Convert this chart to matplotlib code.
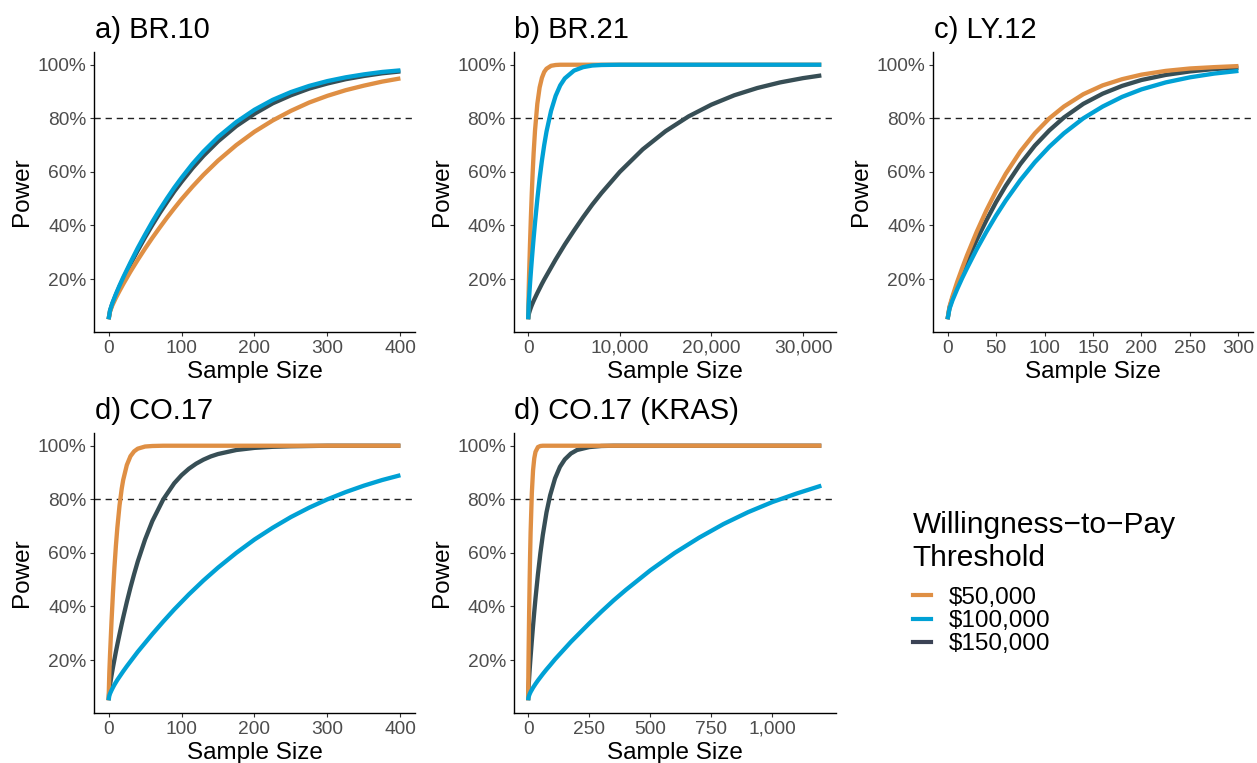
import matplotlib
matplotlib.use("Agg")
import matplotlib.pyplot as plt
from matplotlib.ticker import FuncFormatter
from matplotlib.lines import Line2D

plt.rcParams['font.family'] = ['Liberation Sans', 'DejaVu Sans']

## power curves (one list per willingness-to-pay threshold)
br10_n = [0, 2, 5, 10, 15, 20, 30, 40, 50, 60, 70, 80, 90, 100, 115, 130, 150, 175, 200, 225, 250, 275, 300, 325, 350, 375, 400]
br10_50k = [0.050, 0.079, 0.101, 0.130, 0.156, 0.181, 0.228, 0.272, 0.314, 0.354, 0.392, 0.429, 0.464, 0.498, 0.545, 0.589,
            0.642, 0.700, 0.750, 0.792, 0.828, 0.859, 0.884, 0.905, 0.922, 0.937, 0.949]
br10_100k = [0.050, 0.083, 0.109, 0.144, 0.176, 0.206, 0.262, 0.316, 0.366, 0.414, 0.459, 0.501, 0.541, 0.578, 0.630, 0.676,
             0.730, 0.786, 0.832, 0.869, 0.898, 0.921, 0.939, 0.953, 0.964, 0.973, 0.979]
br10_150k = [0.050, 0.082, 0.107, 0.141, 0.172, 0.201, 0.256, 0.307, 0.356, 0.402, 0.446, 0.487, 0.527, 0.563, 0.614, 0.660,
             0.714, 0.771, 0.817, 0.856, 0.886, 0.911, 0.930, 0.946, 0.958, 0.968, 0.975]

br21_n = [0, 50, 100, 200, 300, 400, 500, 600, 750, 1000, 1250, 1500, 1750, 2000, 2500, 3000, 3500, 4000, 5000, 6000, 7000,
          8000, 10000, 12500, 15000, 17500, 20000, 22500, 25000, 27500, 30000, 32000]
br21_50k = [0.050, 0.149, 0.214, 0.330, 0.433, 0.524, 0.603, 0.672, 0.755, 0.854, 0.915, 0.951, 0.973, 0.985, 0.996, 0.999,
            1.000, 1.000, 1.000, 1.000, 1.000, 1.000, 1.000, 1.000, 1.000, 1.000, 1.000, 1.000, 1.000, 1.000, 1.000, 1.000]
br21_100k = [0.050, 0.101, 0.130, 0.181, 0.228, 0.272, 0.314, 0.354, 0.411, 0.498, 0.575, 0.642, 0.700, 0.750, 0.828, 0.884,
             0.923, 0.949, 0.978, 0.991, 0.997, 0.999, 1.000, 1.000, 1.000, 1.000, 1.000, 1.000, 1.000, 1.000, 1.000, 1.000]
br21_150k = [0.050, 0.065, 0.073, 0.084, 0.094, 0.103, 0.111, 0.119, 0.130, 0.148, 0.165, 0.182, 0.198, 0.213, 0.243, 0.273,
             0.301, 0.329, 0.381, 0.431, 0.478, 0.521, 0.600, 0.684, 0.752, 0.807, 0.851, 0.886, 0.913, 0.934, 0.950, 0.960]

ly12_n = [0, 2, 5, 10, 15, 20, 30, 40, 50, 60, 75, 90, 105, 120, 140, 160, 180, 200, 225, 250, 275, 300]
ly12_50k = [0.050, 0.097, 0.135, 0.190, 0.240, 0.288, 0.376, 0.456, 0.528, 0.593, 0.676, 0.744, 0.800, 0.844, 0.890, 0.923,
            0.946, 0.963, 0.977, 0.986, 0.991, 0.995]
ly12_100k = [0.050, 0.089, 0.120, 0.163, 0.203, 0.240, 0.311, 0.376, 0.437, 0.493, 0.569, 0.636, 0.694, 0.744, 0.800, 0.844,
             0.880, 0.908, 0.934, 0.953, 0.967, 0.977]
ly12_150k = [0.050, 0.093, 0.128, 0.178, 0.223, 0.266, 0.346, 0.419, 0.487, 0.548, 0.629, 0.698, 0.755, 0.803, 0.854, 0.892,
             0.921, 0.943, 0.962, 0.975, 0.984, 0.989]

co17_n = [0, 1, 2, 4, 6, 8, 10, 12, 15, 18, 20, 25, 30, 35, 40, 50, 60, 75, 90, 100, 110, 120, 130, 140, 150, 175, 200, 225,
          250, 275, 300, 325, 350, 375, 400]
co17_50k = [0.050, 0.153, 0.222, 0.344, 0.451, 0.545, 0.626, 0.694, 0.777, 0.840, 0.872, 0.928, 0.961, 0.979, 0.989, 0.997,
            0.999, 1.000, 1.000, 1.000, 1.000, 1.000, 1.000, 1.000, 1.000, 1.000, 1.000, 1.000, 1.000, 1.000, 1.000, 1.000,
            1.000, 1.000, 1.000]
co17_100k = [0.050, 0.067, 0.075, 0.087, 0.098, 0.108, 0.117, 0.126, 0.138, 0.150, 0.158, 0.177, 0.195, 0.213, 0.231, 0.264,
             0.297, 0.344, 0.389, 0.417, 0.445, 0.471, 0.497, 0.521, 0.545, 0.600, 0.650, 0.694, 0.734, 0.769, 0.800, 0.827,
             0.851, 0.872, 0.890]
co17_150k = [0.050, 0.087, 0.108, 0.142, 0.173, 0.202, 0.231, 0.258, 0.297, 0.335, 0.359, 0.417, 0.471, 0.521, 0.568, 0.650,
             0.719, 0.800, 0.860, 0.890, 0.914, 0.933, 0.948, 0.960, 0.969, 0.984, 0.992, 0.996, 0.998, 0.999, 1.000, 1.000,
             1.000, 1.000, 1.000]

kras_n = [0, 1, 2, 4, 6, 8, 10, 15, 20, 25, 30, 40, 50, 60, 75, 90, 110, 130, 150, 175, 200, 250, 300, 350,
          400, 500, 600, 700, 800, 900, 1000, 1100, 1200]
kras_50k = [0.050, 0.163, 0.240, 0.376, 0.493, 0.593, 0.676, 0.823, 0.908, 0.953, 0.977, 0.995, 0.999, 1.000, 1.000, 1.000,
            1.000, 1.000, 1.000, 1.000, 1.000, 1.000, 1.000, 1.000, 1.000, 1.000, 1.000, 1.000, 1.000, 1.000, 1.000, 1.000,
            1.000]
kras_100k = [0.050, 0.059, 0.062, 0.068, 0.073, 0.077, 0.081, 0.089, 0.097, 0.104, 0.111, 0.124, 0.136, 0.148, 0.165, 0.181,
             0.203, 0.223, 0.243, 0.268, 0.291, 0.337, 0.381, 0.423, 0.462, 0.535, 0.600, 0.657, 0.708, 0.752, 0.790, 0.822,
             0.851]
kras_150k = [0.050, 0.084, 0.103, 0.134, 0.162, 0.188, 0.213, 0.272, 0.328, 0.380, 0.430, 0.520, 0.599, 0.667, 0.751, 0.815,
             0.878, 0.921, 0.949, 0.971, 0.984, 0.995, 0.999, 1.000, 1.000, 1.000, 1.000, 1.000, 1.000, 1.000, 1.000, 1.000,
             1.000]

titles = ["a) BR.10", "b) BR.21", "c) LY.12", "d) CO.17", "d) CO.17 (KRAS)"]
wtp_labels = ["\\$50,000", "\\$100,000", "\\$150,000"]
wtp_colors = ["#DF8F44", "#00A1D5", "#374E55"]
legend_colors = ["#DF8F44", "#00A1D5", "#3B4255"]
# drawing order: $150k first, then $50k, $100k on top
wtp_z = [3, 4, 2]

panels = [
    (br10_n, [br10_50k, br10_100k, br10_150k], 400, [0, 100, 200, 300, 400]),
    (br21_n, [br21_50k, br21_100k, br21_150k], 32000, [0, 10000, 20000, 30000]),
    (ly12_n, [ly12_50k, ly12_100k, ly12_150k], 300, [0, 50, 100, 150, 200, 250, 300]),
    (co17_n, [co17_50k, co17_100k, co17_150k], 400, [0, 100, 200, 300, 400]),
    (kras_n, [kras_50k, kras_100k, kras_150k], 1200, [0, 250, 500, 750, 1000]),
]

W, H = 1257, 763
fig = plt.figure(figsize=(W / 100, H / 100), dpi=100)

# axes boxes in pixels: left, top, right, bottom
boxes = [(94, 52, 415, 332), (513.5, 52, 836, 332), (933, 52, 1253, 332),
         (94, 433, 415, 713), (513.5, 433, 836, 713)]

pct = FuncFormatter(lambda v, p: f"{int(round(v * 100))}%")
comma = FuncFormatter(lambda v, p: f"{v:,.0f}")

for (n, curves, nmax, xt), title, (l, t, r, b) in zip(panels, titles, boxes):
    ax = fig.add_axes([l / W, 1 - b / H, (r - l) / W, (b - t) / H])
    for y, c, z in zip(curves, wtp_colors, wtp_z):
        ax.plot(n, y, color=c, lw=3.1, zorder=z, solid_capstyle='butt', solid_joinstyle='round')
    ax.axhline(0.8, color='#222222', lw=1.0, dashes=(4.5, 3.5), zorder=1)
    ax.set_xlim(-0.05 * nmax, 1.05 * nmax)
    ax.set_ylim(0.0025, 1.0475)
    ax.set_xticks(xt)
    ax.set_yticks([0.2, 0.4, 0.6, 0.8, 1.0])
    ax.xaxis.set_major_formatter(comma)
    ax.yaxis.set_major_formatter(pct)
    for s in ['top', 'right']:
        ax.spines[s].set_visible(False)
    for s in ['left', 'bottom']:
        ax.spines[s].set_linewidth(1.0)
        ax.spines[s].set_color('black')
    ax.tick_params(length=3, width=0.8, color='#333333', labelcolor='#4D4D4D',
                   labelsize=13.8, pad=2.5)
    ax.set_xlabel("Sample Size", fontsize=17.5, labelpad=3.5)
    ax.set_ylabel("Power", fontsize=17.5, labelpad=3)
    ax.text(0.003, 1.05, title, transform=ax.transAxes, fontsize=21,
            ha='left', va='baseline')

# legend: title as two text lines, keys below
fig.text(912.5 / W, 1 - 533 / H, "Willingness\u2212to\u2212Pay", fontsize=21.5, va='baseline', ha='left')
fig.text(912.5 / W, 1 - 566 / H, "Threshold", fontsize=21.5, va='baseline', ha='left')
handles = [Line2D([], [], color=c, lw=3) for c in legend_colors]
fig.legend(handles, wtp_labels, loc='center left', bbox_to_anchor=(912.5 / W, 1 - 621 / H),
           frameon=False, fontsize=17.5, handlelength=0.75, handletextpad=0.75,
           labelspacing=0.06, borderpad=0, borderaxespad=0)

fig.savefig("out.png", dpi=100)
